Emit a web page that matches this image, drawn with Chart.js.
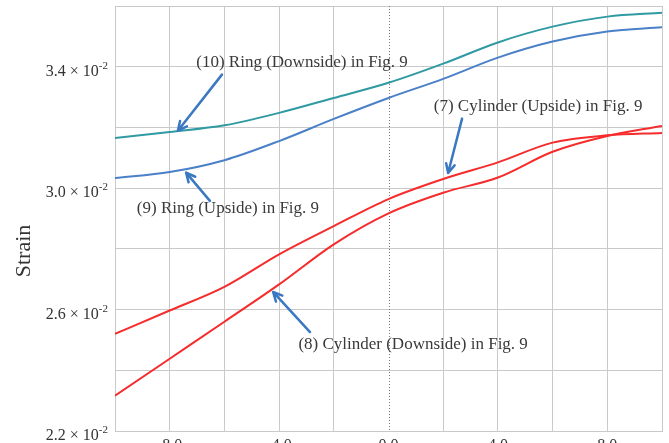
<!DOCTYPE html>
<html>
<head>
<meta charset="utf-8">
<title>Strain</title>
<script src="https://cdn.jsdelivr.net/npm/chart.js@4/dist/chart.umd.min.js"></script>
<style>
  html, body { margin: 0; padding: 0; background: #fff; overflow: hidden; }
  #wrap { width: 669px; height: 443px; overflow: hidden; }
</style>
</head>
<body>
<div id="wrap"><canvas id="my-chart" width="669" height="460"></canvas></div>
<script>
'use strict';

// ******DATA****** (strain in units of 10^-2)
let xValues = [-10, -8, -6, -4, -2, 0, 2, 4, 6, 8, 10];

let ringDownside = [3.165, 3.185, 3.207, 3.248, 3.297, 3.347, 3.410, 3.480, 3.532, 3.565, 3.578];
let ringUpside = [3.033, 3.053, 3.092, 3.155, 3.228, 3.297, 3.360, 3.430, 3.483, 3.516, 3.530];
let cylinderUpside = [2.520, 2.597, 2.675, 2.782, 2.875, 2.964, 3.030, 3.085, 3.150, 3.174, 3.182];
let cylinderDownside = [2.316, 2.438, 2.560, 2.683, 2.815, 2.917, 2.985, 3.035, 3.120, 3.172, 3.205];

let xTickLabels = [-8, -4, 0, 4, 8];
let yTickLabels = [2.2, 2.6, 3.0, 3.4];

// label text, label centre, arrow start and arrow tip (data coords)
let notes = [
  { text: '(10) Ring (Downside) in Fig. 9', at: [-3.16, 3.413], from: [-6.09, 3.374], to: [-7.70, 3.189] },
  { text: '(9) Ring (Upside) in Fig. 9', at: [-5.87, 2.932], from: [-6.53, 2.958], to: [-7.40, 3.051] },
  { text: '(7) Cylinder (Upside) in Fig. 9', at: [5.47, 3.268], from: [2.69, 3.229], to: [2.18, 3.050] },
  { text: '(8) Cylinder (Downside) in Fig. 9', at: [0.90, 2.484], from: [-2.87, 2.526], to: [-4.22, 2.658] }
];

// ******HELPERS******
let serif = '"Liberation Serif", "DejaVu Serif", serif';
let gridGray = '#c9c9c9';
let textGray = '#333';

function toPoints(values) {
  let pts = [];
  for (let i = 0; i < xValues.length; i++) {
    pts.push({ x: xValues[i], y: values[i] });
  }
  return pts;
}

function makeSeries(label, values, color) {
  return {
    label: label,
    data: toPoints(values),
    borderColor: color,
    borderWidth: 2,
    pointRadius: 0,
    cubicInterpolationMode: 'monotone',
    fill: false
  };
}

function drawArrow(ctx, x1, y1, x2, y2) {
  let ang = Math.atan2(y2 - y1, x2 - x1);
  let head = 10;
  ctx.beginPath();
  ctx.moveTo(x1, y1);
  ctx.lineTo(x2, y2);
  ctx.moveTo(x2 - head * Math.cos(ang - 0.45), y2 - head * Math.sin(ang - 0.45));
  ctx.lineTo(x2, y2);
  ctx.lineTo(x2 - head * Math.cos(ang + 0.45), y2 - head * Math.sin(ang + 0.45));
  ctx.stroke();
}

// y tick labels as "3.4 x 10" with a raised "-2"
function drawYLabels(ctx, ys) {
  ctx.fillStyle = textGray;
  ctx.textBaseline = 'alphabetic';
  ctx.textAlign = 'right';
  for (let i = 0; i < yTickLabels.length; i++) {
    let v = yTickLabels[i];
    let py = ys.getPixelForValue(v);
    ctx.font = '11px ' + serif;
    let supW = ctx.measureText('-2').width;
    ctx.fillText('-2', 108, py + 2);
    ctx.font = '16px ' + serif;
    ctx.fillText(v.toFixed(1) + ' \u00d7 10', 108 - supW, py + 9);
  }
}

// dotted centre line, axis title, y labels and the arrow notes
let extrasPlugin = {
  id: 'extras',
  beforeDatasetsDraw(chart) {
    let ctx = chart.ctx;
    let xs = chart.scales.x;
    let area = chart.chartArea;
    let x0 = Math.round(xs.getPixelForValue(0)) + 0.5;
    ctx.save();
    ctx.strokeStyle = '#777';
    ctx.lineWidth = 1;
    ctx.setLineDash([1, 2]);
    ctx.beginPath();
    ctx.moveTo(x0, area.top);
    ctx.lineTo(x0, area.bottom);
    ctx.stroke();
    ctx.restore();
  },
  afterDatasetsDraw(chart) {
    let ctx = chart.ctx;
    let xs = chart.scales.x;
    let ys = chart.scales.y;
    ctx.save();

    drawYLabels(ctx, ys);

    // y axis title
    ctx.translate(24, 251);
    ctx.rotate(-Math.PI / 2);
    ctx.font = '22px ' + serif;
    ctx.fillStyle = textGray;
    ctx.textAlign = 'center';
    ctx.textBaseline = 'middle';
    ctx.fillText('Strain', 0, 0);
    ctx.setTransform(1, 0, 0, 1, 0, 0);

    ctx.strokeStyle = '#3b78c2';
    ctx.lineWidth = 2.5;
    ctx.lineCap = 'round';
    ctx.lineJoin = 'round';
    ctx.font = '17px ' + serif;
    ctx.fillStyle = '#3a3a3a';
    for (let i = 0; i < notes.length; i++) {
      let n = notes[i];
      drawArrow(ctx,
        xs.getPixelForValue(n.from[0]), ys.getPixelForValue(n.from[1]),
        xs.getPixelForValue(n.to[0]), ys.getPixelForValue(n.to[1]));
      ctx.fillText(n.text, xs.getPixelForValue(n.at[0]), ys.getPixelForValue(n.at[1]));
    }
    ctx.restore();
  }
};

// ******CHART******
let canvasElem = document.getElementById('my-chart').getContext('2d');

let myChartObj = {
  type: 'line',
  data: {
    datasets: [
      makeSeries('(10) Ring (Downside)', ringDownside, '#2f9aa2'),
      makeSeries('(9) Ring (Upside)', ringUpside, '#4a80c8'),
      makeSeries('(7) Cylinder (Upside)', cylinderUpside, '#f62b2b'),
      makeSeries('(8) Cylinder (Downside)', cylinderDownside, '#f62b2b')
    ]
  },
  options: {
    responsive: false,
    devicePixelRatio: 1,
    animation: false,
    layout: { padding: { top: 6, right: 7, left: 0, bottom: 0 } },
    plugins: {
      legend: { display: false },
      tooltip: { enabled: false }
    },
    scales: {
      x: {
        type: 'linear',
        min: -10,
        max: 10,
        afterFit(scale) {
          scale.height = 29;
          scale.paddingLeft = 0;
          scale.paddingRight = 0;
        },
        grid: {
          color: (c) => (c.tick && c.tick.value === 0 ? 'rgba(0,0,0,0)' : gridGray),
          drawTicks: false
        },
        border: { color: gridGray },
        ticks: {
          stepSize: 2,
          autoSkip: false,
          maxRotation: 0,
          padding: 5,
          color: textGray,
          font: { family: serif, size: 16 },
          callback: (value) => (xTickLabels.includes(value) ? value.toFixed(1) : '')
        }
      },
      y: {
        min: 2.2,
        max: 3.6,
        afterFit(scale) {
          scale.width = 115;
          scale.paddingTop = 0;
          scale.paddingBottom = 0;
        },
        grid: { color: gridGray, drawTicks: false },
        border: { color: gridGray },
        ticks: {
          stepSize: 0.2,
          padding: 7,
          callback: () => ''
        }
      }
    }
  },
  plugins: [extrasPlugin]
};

new Chart(canvasElem, myChartObj);
</script>
</body>
</html>
